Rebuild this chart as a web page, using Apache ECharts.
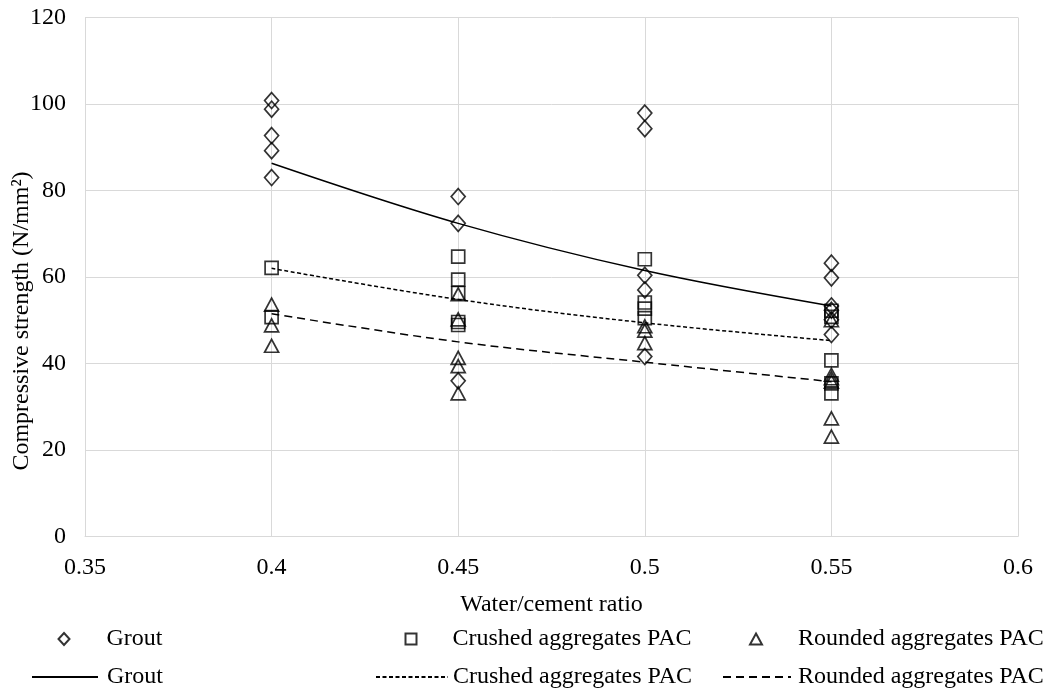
<!DOCTYPE html>
<html>
<head>
<meta charset="utf-8">
<script src="https://cdn.jsdelivr.net/npm/echarts@6/dist/echarts.min.js"></script>
<style>
html,body{margin:0;padding:0;background:#fff;}
#chart{width:1048px;height:691px;}
</style>
</head>
<body>
<div id="chart"></div>
<script>
// ---- data ----
const xTicks = [0.35, 0.4, 0.45, 0.5, 0.55, 0.6];
const yTicks = [0, 20, 40, 60, 80, 100, 120];

const groutX = [0.4, 0.4, 0.4, 0.4, 0.4, 0.45, 0.45, 0.45, 0.5, 0.5, 0.5, 0.5, 0.5, 0.55, 0.55, 0.55, 0.55, 0.55, 0.55];
const groutY = [100.8, 98.8, 92.7, 89.2, 83.0, 78.6, 72.4, 36.0, 97.9, 94.3, 60.4, 57.0, 41.6, 63.2, 59.8, 53.3, 52.3, 50.1, 46.7];

const crushedX = [0.4, 0.4, 0.45, 0.45, 0.45, 0.45, 0.45, 0.5, 0.5, 0.5, 0.5, 0.55, 0.55, 0.55, 0.55, 0.55];
const crushedY = [62.1, 50.7, 64.7, 59.4, 56.3, 49.6, 48.9, 64.1, 54.1, 52.7, 50.5, 52.2, 50.8, 40.7, 35.4, 33.1];

const roundedX = [0.4, 0.4, 0.4, 0.45, 0.45, 0.45, 0.45, 0.45, 0.5, 0.5, 0.5, 0.55, 0.55, 0.55, 0.55, 0.55, 0.55];
const roundedY = [53.6, 48.8, 44.1, 56.0, 50.2, 41.3, 39.4, 33.1, 48.6, 47.6, 44.7, 50.0, 37.4, 36.6, 35.8, 27.3, 23.1];

const trendX = [0.4, 0.45, 0.5, 0.55];
const groutTrend = [86.3, 72.4, 61.5, 53.3];
const crushedTrend = [62.0, 54.8, 49.4, 45.3];
const roundedTrend = [51.5, 45.0, 40.3, 35.8];

const names = ['Grout', 'Crushed aggregates PAC', 'Rounded aggregates PAC'];
// ---------------------------------------

const pairs = (xs, ys) => xs.map((x, i) => [x, ys[i]]);
const FONT = 'Liberation Serif';
const FS = 24;
const TREND = ' (trend)';

const markerStyle = { color: 'rgba(0,0,0,0)', borderColor: '#000', borderWidth: 1.7 };

function scatter(name, xs, ys, symbol, size) {
  return { type: 'scatter', name, data: pairs(xs, ys), symbol, symbolSize: size,
    itemStyle: markerStyle, z: 3, emphasis: { disabled: true } };
}
function trend(name, ys, dash) {
  return { type: 'line', name: name + TREND, data: pairs(trendX, ys), smooth: 0.35,
    symbol: 'none', showSymbol: false, z: 2,
    lineStyle: { color: '#000', width: 1.5, type: dash },
    itemStyle: { color: '#000' }, emphasis: { disabled: true } };
}

function legend(name, left, top, w, h, padLeft, hideSymbol) {
  const l = { data: [name], left, top, itemWidth: w, itemHeight: h, padding: 0,
    selectedMode: false, formatter: n => n.replace(TREND, ''),
    textStyle: { fontFamily: FONT, fontSize: FS, color: '#000', padding: [0, 0, 0, padLeft] } };
  if (hideSymbol) {
    l.itemStyle = { color: 'rgba(0,0,0,0)', borderColor: 'rgba(0,0,0,0)', borderWidth: 0, opacity: 0 };
  }
  return l;
}

const chart = echarts.init(document.getElementById('chart'), null, { renderer: 'canvas' });
chart.setOption({
  animation: false,
  backgroundColor: '#fff',
  grid: { left: 85, right: 30, top: 17.5, bottom: 154.5, containLabel: false, outerBoundsMode: 'none' },
  xAxis: {
    type: 'value', min: xTicks[0], max: xTicks[xTicks.length - 1], interval: 0.05,
    name: 'Water/cement ratio', nameLocation: 'middle', nameGap: 56, nameMoveOverlap: false,
    nameTextStyle: { fontFamily: FONT, fontSize: FS, color: '#000' },
    axisLine: { show: true, lineStyle: { color: '#d9d9d9', width: 1 } },
    axisTick: { show: false },
    axisLabel: { fontFamily: FONT, fontSize: FS, color: '#000', margin: 19,
      formatter: v => String(Math.round(v * 100) / 100) },
    splitLine: { show: true, lineStyle: { color: '#d9d9d9', width: 1 } }
  },
  yAxis: {
    type: 'value', min: yTicks[0], max: yTicks[yTicks.length - 1], interval: 20,
    name: 'Compressive strength (N/mm²)', nameLocation: 'middle', nameGap: 51, nameMoveOverlap: false,
    nameTextStyle: { fontFamily: FONT, fontSize: FS, color: '#000', padding: [0, 88, 0, 0] },
    axisLine: { show: false },
    axisTick: { show: false },
    axisLabel: { fontFamily: FONT, fontSize: FS, color: '#000', margin: 19 },
    splitLine: { show: true, lineStyle: { color: '#d9d9d9', width: 1 } }
  },
  legend: [
    legend(names[0], 57.5, 627, 11, 12, 32, false),
    legend(names[1], 404.5, 627, 11, 11, 31, false),
    legend(names[2], 749, 627, 12, 11, 31, false),
    legend(names[0] + TREND, 31, 665, 66, 12, 4, true),
    legend(names[1] + TREND, 375, 665, 72, 12, 0, true),
    legend(names[2] + TREND, 722, 665, 68, 12, 2, true)
  ],
  series: [
    scatter(names[0], groutX, groutY, 'diamond', [14, 16]),
    scatter(names[1], crushedX, crushedY, 'rect', [13, 13]),
    scatter(names[2], roundedX, roundedY, 'triangle', [14, 13]),
    trend(names[0], groutTrend, 'solid'),
    trend(names[1], crushedTrend, [4, 2.5]),
    trend(names[2], roundedTrend, [8, 5])
  ]
});
</script>
</body>
</html>
